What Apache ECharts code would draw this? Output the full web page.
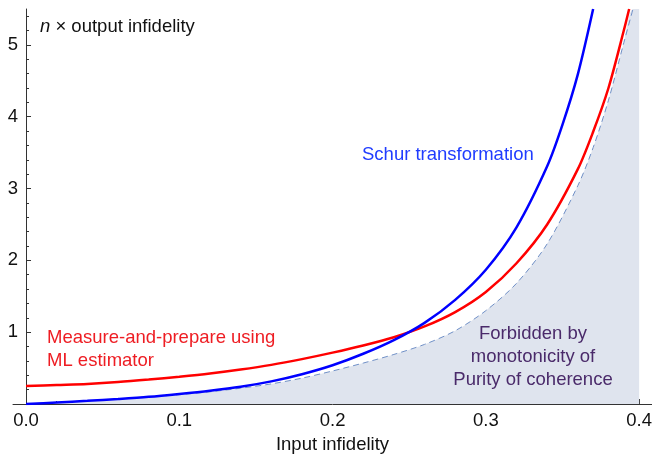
<!DOCTYPE html>
<html>
<head>
<meta charset="utf-8">
<title>n x output infidelity</title>
<script src="https://cdn.jsdelivr.net/npm/echarts@6/dist/echarts.min.js"></script>
<style>
  html, body { margin: 0; padding: 0; background: #fff; }
  #main { width: 652px; height: 458px; }
</style>
</head>
<body>
<div id="main"></div>
<script>
// values: [input infidelity, n x output infidelity]
var schurData = [
  [0, 0], [0.02, 0.021], [0.04, 0.044], [0.06, 0.07], [0.08, 0.1], [0.1, 0.14],
  [0.12, 0.185], [0.14, 0.24], [0.16, 0.315], [0.18, 0.415], [0.2, 0.54],
  [0.22, 0.7], [0.24, 0.89], [0.26, 1.13], [0.28, 1.45], [0.3, 1.87],
  [0.32, 2.46], [0.34, 3.31], [0.35, 3.89], [0.36, 4.59], [0.37, 5.5]
];
var mlData = [
  [0, 0.25], [0.02, 0.265], [0.04, 0.28], [0.06, 0.305], [0.08, 0.34], [0.1, 0.38],
  [0.12, 0.425], [0.14, 0.48], [0.16, 0.545], [0.18, 0.625], [0.2, 0.715],
  [0.22, 0.815], [0.24, 0.93], [0.26, 1.08], [0.28, 1.28], [0.3, 1.56],
  [0.32, 1.96], [0.34, 2.5], [0.36, 3.27], [0.37, 3.79], [0.38, 4.4],
  [0.39, 5.2], [0.3935, 5.5]
];
var boundData = [
  [0, 0], [0.02, 0.022], [0.04, 0.045], [0.06, 0.07], [0.08, 0.1], [0.1, 0.13],
  [0.12, 0.17], [0.14, 0.22], [0.16, 0.28], [0.18, 0.36], [0.2, 0.46],
  [0.22, 0.57], [0.24, 0.69], [0.26, 0.83], [0.28, 1.02], [0.3, 1.3],
  [0.32, 1.68], [0.34, 2.23], [0.36, 3.04], [0.37, 3.57], [0.38, 4.23],
  [0.39, 5.03], [0.396, 5.5]
];
// forbidden region is closed at the right edge of the data range
var forbiddenEdge = [[0.4, 5.5]];

var xTicks = [0, 0.1, 0.2, 0.3, 0.4];
var xMinorTicks = [0.02, 0.04, 0.06, 0.08, 0.12, 0.14, 0.16, 0.18, 0.22, 0.24, 0.26, 0.28,
  0.32, 0.34, 0.36, 0.38];
var yTicks = [1, 2, 3, 4, 5];
var yMinorTicks = [0.2, 0.4, 0.6, 0.8, 1.2, 1.4, 1.6, 1.8, 2.2, 2.4, 2.6, 2.8, 3.2, 3.4, 3.6, 3.8,
  4.2, 4.4, 4.6, 4.8, 5.2, 5.4];

var font = "'Liberation Sans', Arial, Helvetica, sans-serif";
var fs = 18.5;
var axisColor = '#333';

var xMain = {
  type: 'value', min: -0.0085, max: 0.4084, position: 'bottom',
  name: 'Input infidelity', nameLocation: 'middle', nameGap: 31,
  nameTextStyle: { color: '#111', fontSize: fs, fontFamily: font },
  axisLine: { show: true, onZero: true, lineStyle: { color: axisColor, width: 1 } },
  axisTick: { show: true, inside: true, length: 5, customValues: xTicks, lineStyle: { color: axisColor } },
  axisLabel: {
    show: true, margin: 7, customValues: xTicks, color: '#111', fontSize: fs, fontFamily: font,
    formatter: function (v) { return v.toFixed(1); }
  },
  splitLine: { show: false }
};
var xMinor = {
  type: 'value', min: -0.0085, max: 0.4084, position: 'bottom',
  axisLine: { show: false, onZero: true },
  axisTick: { show: true, inside: true, length: 3, customValues: xMinorTicks, lineStyle: { color: axisColor } },
  axisLabel: { show: false },
  splitLine: { show: false }
};
var yMain = {
  type: 'value', min: 0, max: 5.5, position: 'left',
  axisLine: { show: true, onZero: true, lineStyle: { color: axisColor, width: 1 } },
  axisTick: { show: true, inside: true, length: 5, customValues: yTicks, lineStyle: { color: axisColor } },
  axisLabel: { show: true, margin: -5, customValues: yTicks, color: '#111', fontSize: fs, fontFamily: font },
  splitLine: { show: false }
};
var yMinor = {
  type: 'value', min: 0, max: 5.5, position: 'left',
  axisLine: { show: false, onZero: true },
  axisTick: { show: true, inside: true, length: 3, customValues: yMinorTicks, lineStyle: { color: axisColor } },
  axisLabel: { show: false },
  splitLine: { show: false }
};

var option = {
  animation: false,
  backgroundColor: '#fff',
  grid: { left: 13, right: 0, top: 9, bottom: 54, containLabel: false, outerBoundsMode: 'none' },
  xAxis: [xMain, xMinor],
  yAxis: [yMain, yMinor],
  series: [{
    name: 'forbidden', type: 'line', data: boundData.concat(forbiddenEdge),
    smooth: 0.3, symbol: 'none', z: 1,
    lineStyle: { width: 0, opacity: 0 },
    areaStyle: { color: '#dfe4ee', opacity: 1 }
  }, {
    name: 'bound', type: 'line', data: boundData,
    smooth: 0.3, symbol: 'none', z: 2,
    lineStyle: { color: '#6f8fc6', width: 1, type: [6, 4] }
  }, {
    name: 'ML', type: 'line', data: mlData,
    smooth: 0.3, symbol: 'none', z: 3,
    lineStyle: { color: '#ff0000', width: 2.5 }
  }, {
    name: 'Schur', type: 'line', data: schurData,
    smooth: 0.3, symbol: 'none', z: 4,
    lineStyle: { color: '#0000ff', width: 2.5 }
  }],
  graphic: [{
    type: 'text', x: 40, y: 17, z: 10,
    style: {
      text: '{i|n} × output infidelity', fill: '#111', fontSize: fs, fontFamily: font,
      rich: { i: { fontStyle: 'italic', fontSize: fs, fontFamily: font, fill: '#111' } }
    }
  }, {
    type: 'text', x: 362, y: 145, z: 10,
    style: { text: 'Schur transformation', fill: '#1f3cff', fontSize: fs, fontFamily: font }
  }, {
    type: 'text', x: 47, y: 326, z: 10,
    style: { text: 'Measure-and-prepare using\nML estimator', fill: '#ee1d23', fontSize: fs, fontFamily: font, lineHeight: 23 }
  }, {
    type: 'text', x: 533, y: 322, z: 10,
    style: {
      text: 'Forbidden by\nmonotonicity of\nPurity of coherence', fill: '#4a2a6a', fontSize: fs,
      fontFamily: font, lineHeight: 23, align: 'center'
    }
  }]
};

var chart = echarts.init(document.getElementById('main'));
chart.setOption(option);
</script>
</body>
</html>
